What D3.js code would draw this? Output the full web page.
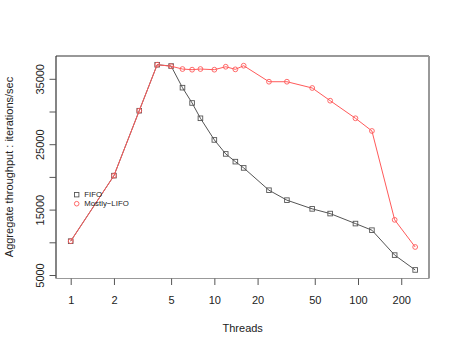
<!DOCTYPE html>
<html>
<head>
<meta charset="utf-8">
<script src="https://cdn.jsdelivr.net/npm/d3@7"></script>
<style>
  body { margin: 0; background: #fff; }
  text { font-family: "Liberation Sans", Arial, sans-serif; fill: #222; }
</style>
</head>
<body>
<div class="container"></div>
<script>
const WIDTH = 458;
const HEIGHT = 349;

// thread counts
var threads = [1, 2, 3, 4, 5, 6, 7, 8, 10, 12, 14, 16, 24, 32, 48, 64, 96, 125, 180, 250];
// aggregate throughput (iterations/sec)
var fifo = [10250, 20270, 30200, 37230, 37030, 33720, 31380, 29040, 25730, 23590, 22410, 21450,
            18040, 16520, 15190, 14470, 12940, 11930, 8120, 5850];
var mostlyLifo = [10250, 20270, 30200, 37230, 37000, 36570, 36470, 36570, 36470, 36920, 36520, 37080,
                  34630, 34630, 33670, 31730, 29040, 27100, 13510, 9360];
var xTicks = [1, 2, 5, 10, 20, 50, 100, 200];
var yTicks = [5000, 10000, 15000, 20000, 25000, 30000, 35000];
var yLabelled = [5000, 15000, 25000, 35000];
var series = [
  {name: "FIFO", values: fifo, color: "#555555", shape: "square"},
  {name: "Mostly\u2212LIFO", values: mostlyLifo, color: "#ff5a5a", shape: "circle"}
];

var box = {left: 56, top: 56, right: 429, bottom: 278.5};

var x = d3.scaleLog().domain([1, 10]).range([70.7, 214.35]);
var y = d3.scaleLinear().domain([5000, 35000]).range([275.5, 79.3]);

var svg = d3.select(".container").append("svg")
    .attr("width", WIDTH)
    .attr("height", HEIGHT);

// frame
svg.append("line").attr("x1", box.left).attr("y1", box.top).attr("x2", box.right).attr("y2", box.top)
    .attr("stroke", "#333").attr("stroke-width", 1.2);
svg.append("line").attr("x1", box.left).attr("y1", box.top).attr("x2", box.left).attr("y2", box.bottom)
    .attr("stroke", "#333").attr("stroke-width", 1.2);
svg.append("line").attr("x1", box.right).attr("y1", box.top).attr("x2", box.right).attr("y2", box.bottom)
    .attr("stroke", "#999").attr("stroke-width", 2);
svg.append("line").attr("x1", box.left).attr("y1", box.bottom).attr("x2", box.right).attr("y2", box.bottom)
    .attr("stroke", "#999").attr("stroke-width", 1.2);

// x axis
var xAxis = d3.axisBottom(x).tickValues(xTicks).tickSize(6.5).tickPadding(11)
    .tickFormat(d3.format("d"));
var gx = svg.append("g").attr("transform", "translate(0," + box.bottom + ")").call(xAxis);
gx.select(".domain").remove();
gx.selectAll("line").attr("stroke", "#555");
gx.selectAll("text").attr("font-size", 11).attr("fill", "#222")
    .attr("font-family", "Liberation Sans, Arial, sans-serif");

// y axis (labels rotated, R style)
var yAxis = d3.axisLeft(y).tickValues(yTicks).tickSize(6.5)
    .tickFormat(function(d) { return yLabelled.indexOf(d) >= 0 ? d : ""; });
var gy = svg.append("g").attr("transform", "translate(" + box.left + ",0)").call(yAxis);
gy.select(".domain").remove();
gy.selectAll(".tick").attr("transform", null);
gy.selectAll(".tick line").attr("stroke", "#555")
    .attr("y1", function(d) { return y(d); }).attr("y2", function(d) { return y(d); });
gy.selectAll(".tick text").attr("font-size", 11).attr("fill", "#222")
    .attr("font-family", "Liberation Sans, Arial, sans-serif")
    .attr("text-anchor", "middle")
    .attr("transform", function(d) { return "rotate(-90,-16," + y(d) + ")"; })
    .attr("x", -16).attr("y", function(d) { return y(d); }).attr("dy", "0.35em");

// axis titles
svg.append("text").attr("x", 242.7).attr("y", 331.5).attr("text-anchor", "middle")
    .attr("font-size", 11).text("Threads");
svg.append("text").attr("transform", "translate(13,167) rotate(-90)").attr("text-anchor", "middle")
    .attr("font-size", 11).text("Aggregate throughput : iterations/sec");

// series
var line = d3.line().x(function(d) { return x(d[0]); }).y(function(d) { return y(d[1]); });
series.forEach(function(s) {
  var pts = threads.map(function(t, i) { return [t, s.values[i]]; });
  svg.append("path").datum(pts).attr("d", line)
      .attr("fill", "none").attr("stroke", s.color).attr("stroke-width", 1);
  if (s.shape === "square") {
    svg.selectAll(null).data(pts).enter().append("rect")
        .attr("x", function(d) { return x(d[0]) - 2.3; })
        .attr("y", function(d) { return y(d[1]) - 2.3; })
        .attr("width", 4.6).attr("height", 4.6)
        .attr("fill", "none").attr("stroke", s.color).attr("stroke-width", 0.9);
  } else {
    svg.selectAll(null).data(pts).enter().append("circle")
        .attr("cx", function(d) { return x(d[0]); })
        .attr("cy", function(d) { return y(d[1]); })
        .attr("r", 2.4)
        .attr("fill", "none").attr("stroke", s.color).attr("stroke-width", 0.9);
  }
});

// legend
var legend = svg.append("g").attr("transform", "translate(76.7,194.7)");
series.forEach(function(s, i) {
  var ly = i * 9;
  if (s.shape === "square") {
    legend.append("rect").attr("x", -2.2).attr("y", ly - 2.2).attr("width", 4.4).attr("height", 4.4)
        .attr("fill", "none").attr("stroke", s.color).attr("stroke-width", 0.9);
  } else {
    legend.append("circle").attr("cx", 0).attr("cy", ly).attr("r", 2.3)
        .attr("fill", "none").attr("stroke", s.color).attr("stroke-width", 0.9);
  }
  legend.append("text").attr("x", 7.6).attr("y", ly).attr("dy", "0.35em")
      .attr("font-size", 7.8).text(s.name);
});
</script>
</body>
</html>
